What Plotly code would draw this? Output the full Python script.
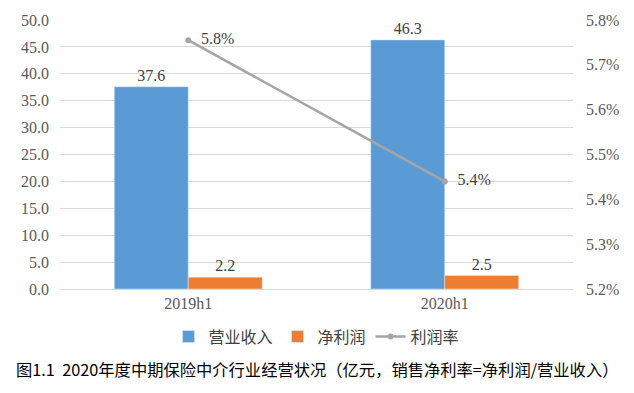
import plotly.graph_objects as go

categories = ["2019h1", "2020h1"]
revenue = [37.6, 46.3]
net_profit = [2.2, 2.5]
margin = [5.755, 5.44]
left_ticks = [0, 5, 10, 15, 20, 25, 30, 35, 40, 45, 50]
right_ticks = [5.2, 5.3, 5.4, 5.5, 5.6, 5.7, 5.8]

serif = "Liberation Serif, Times New Roman, serif"
cjk = "Noto Sans CJK SC, sans-serif"

fig = go.Figure()
fig.add_trace(go.Bar(
    x=categories, y=revenue, name="营业收入", marker_color="#5B9BD5",
    text=[f"{v:.1f}" for v in revenue], textposition="outside",
    textfont=dict(family=serif, size=16, color="#404040"), cliponaxis=False,
))
fig.add_trace(go.Bar(
    x=categories, y=net_profit, name="净利润", marker_color="#ED7D31",
    text=[f"{v:.1f}" for v in net_profit], textposition="outside",
    textfont=dict(family=serif, size=16, color="#404040"), cliponaxis=False,
))
fig.add_trace(go.Scatter(
    x=categories, y=margin, name="利润率", yaxis="y2", mode="lines+markers+text",
    line=dict(color="#A5A5A5", width=2.5), marker=dict(size=6, color="#A5A5A5"),
    text=[f"  {v:.1f}%" for v in margin], textposition="middle right",
    textfont=dict(family=serif, size=16, color="#404040"), cliponaxis=False,
))

fig.update_layout(
    width=634, height=393,
    margin=dict(l=60, r=61, t=18, b=104),
    paper_bgcolor="white", plot_bgcolor="white",
    barmode="group", bargap=0.423, bargroupgap=0,
    showlegend=True,
    legend=dict(orientation="h", x=0.5, xanchor="center", y=-0.177, yanchor="middle",
                font=dict(family=cjk, size=16, color="#404040"), itemwidth=30,
                traceorder="normal"),
    xaxis=dict(type="category", showgrid=False, showline=True, linecolor="#D9D9D9",
               linewidth=1, ticks="", tickfont=dict(family=serif, size=16, color="#595959")),
    yaxis=dict(range=[0, 50], tickvals=left_ticks, ticktext=[f"{v:.1f}" for v in left_ticks],
               showgrid=True, gridcolor="#D9D9D9", zeroline=False, ticks="",
               ticklabelstandoff=10,
               tickfont=dict(family=serif, size=16, color="#595959")),
    yaxis2=dict(range=[5.2, 5.8], tickvals=right_ticks, ticktext=[f"{v:.1f}%" for v in right_ticks],
                overlaying="y", side="right", showgrid=False, zeroline=False, ticks="",
                ticklabelstandoff=12,
                tickfont=dict(family=serif, size=16, color="#595959")),
    annotations=[dict(
        text="图1.1  2020年度中期保险中介行业经营状况（亿元，销售净利率=净利润/营业收入）",
        xref="paper", yref="paper", x=0.5, y=-0.299, xanchor="center", yanchor="middle",
        showarrow=False, font=dict(family=cjk, size=16.3, color="#000000"),
    )],
)

fig.write_html("out.html", config={"displayModeBar": False},
               post_script="document.body.style.margin='0';")
